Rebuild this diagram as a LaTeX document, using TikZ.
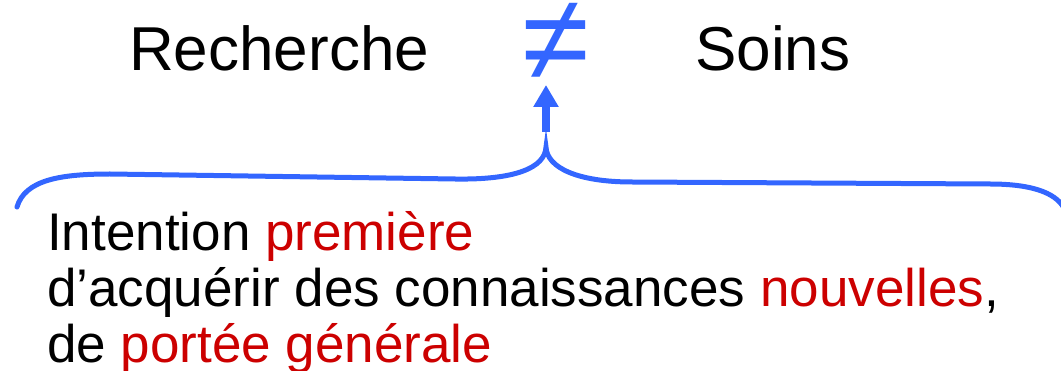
\documentclass[tikz,border=0pt]{standalone}
\usepackage{fontspec}
\setmainfont{Liberation Sans}
\usepackage{tikz}
\usetikzlibrary{arrows.meta,positioning,calc}
\definecolor{braceblue}{RGB}{51,102,255}
\definecolor{wordred}{RGB}{204,0,0}
\tikzset{
  headword/.style={anchor=base west,inner sep=0pt,font=\fontsize{62}{62}\selectfont},
  bodyline/.style={anchor=base west,inner sep=0pt,font=\fontsize{53}{56}\selectfont},
  neqsign/.style={inner sep=0pt,text=braceblue,font=\fontsize{122}{122}\selectfont},
  bluebrace/.style={draw=braceblue,line width=5pt,line cap=round},
  upedge/.style={-{Triangle[length=22pt,width=24pt]},draw=braceblue,line width=8pt}
}
\newcommand{\hl}[1]{\textcolor{wordred}{#1}}
\begin{document}
\begin{tikzpicture}[x=1pt,y=-1pt]
\useasboundingbox (0,0) rectangle (1061,371);
\node[headword] (R) at (129,71) {Recherche};
\node[headword] (S) at (695,71) {Soins};
\node[neqsign] (neq) at (556,42) {≠};
\coordinate (tail) at (546,132);
\coordinate (tip) at (546,85);
\draw[upedge] (tail) -- (tip);
% accolade
\coordinate (cusp) at (546,147);
\draw[bluebrace] (17,207) .. controls (25,180) and (60,174) .. (110,174)
  -- (455,179) .. controls (515,180) and (545,168) .. (cusp)
  .. controls (547,168) and (578,182) .. (632,182)
  -- (990,184) .. controls (1030,184) and (1055,192) .. (1064,208);
\node[bodyline] (L1) at (47,251) {Intention \hl{première}};
\node[bodyline] (L2) at (47,307) {d’acquérir des connaissances \hl{nouvelles},};
\node[bodyline] (L3) at (47,363) {de \hl{portée générale}};
\end{tikzpicture}
\end{document}
